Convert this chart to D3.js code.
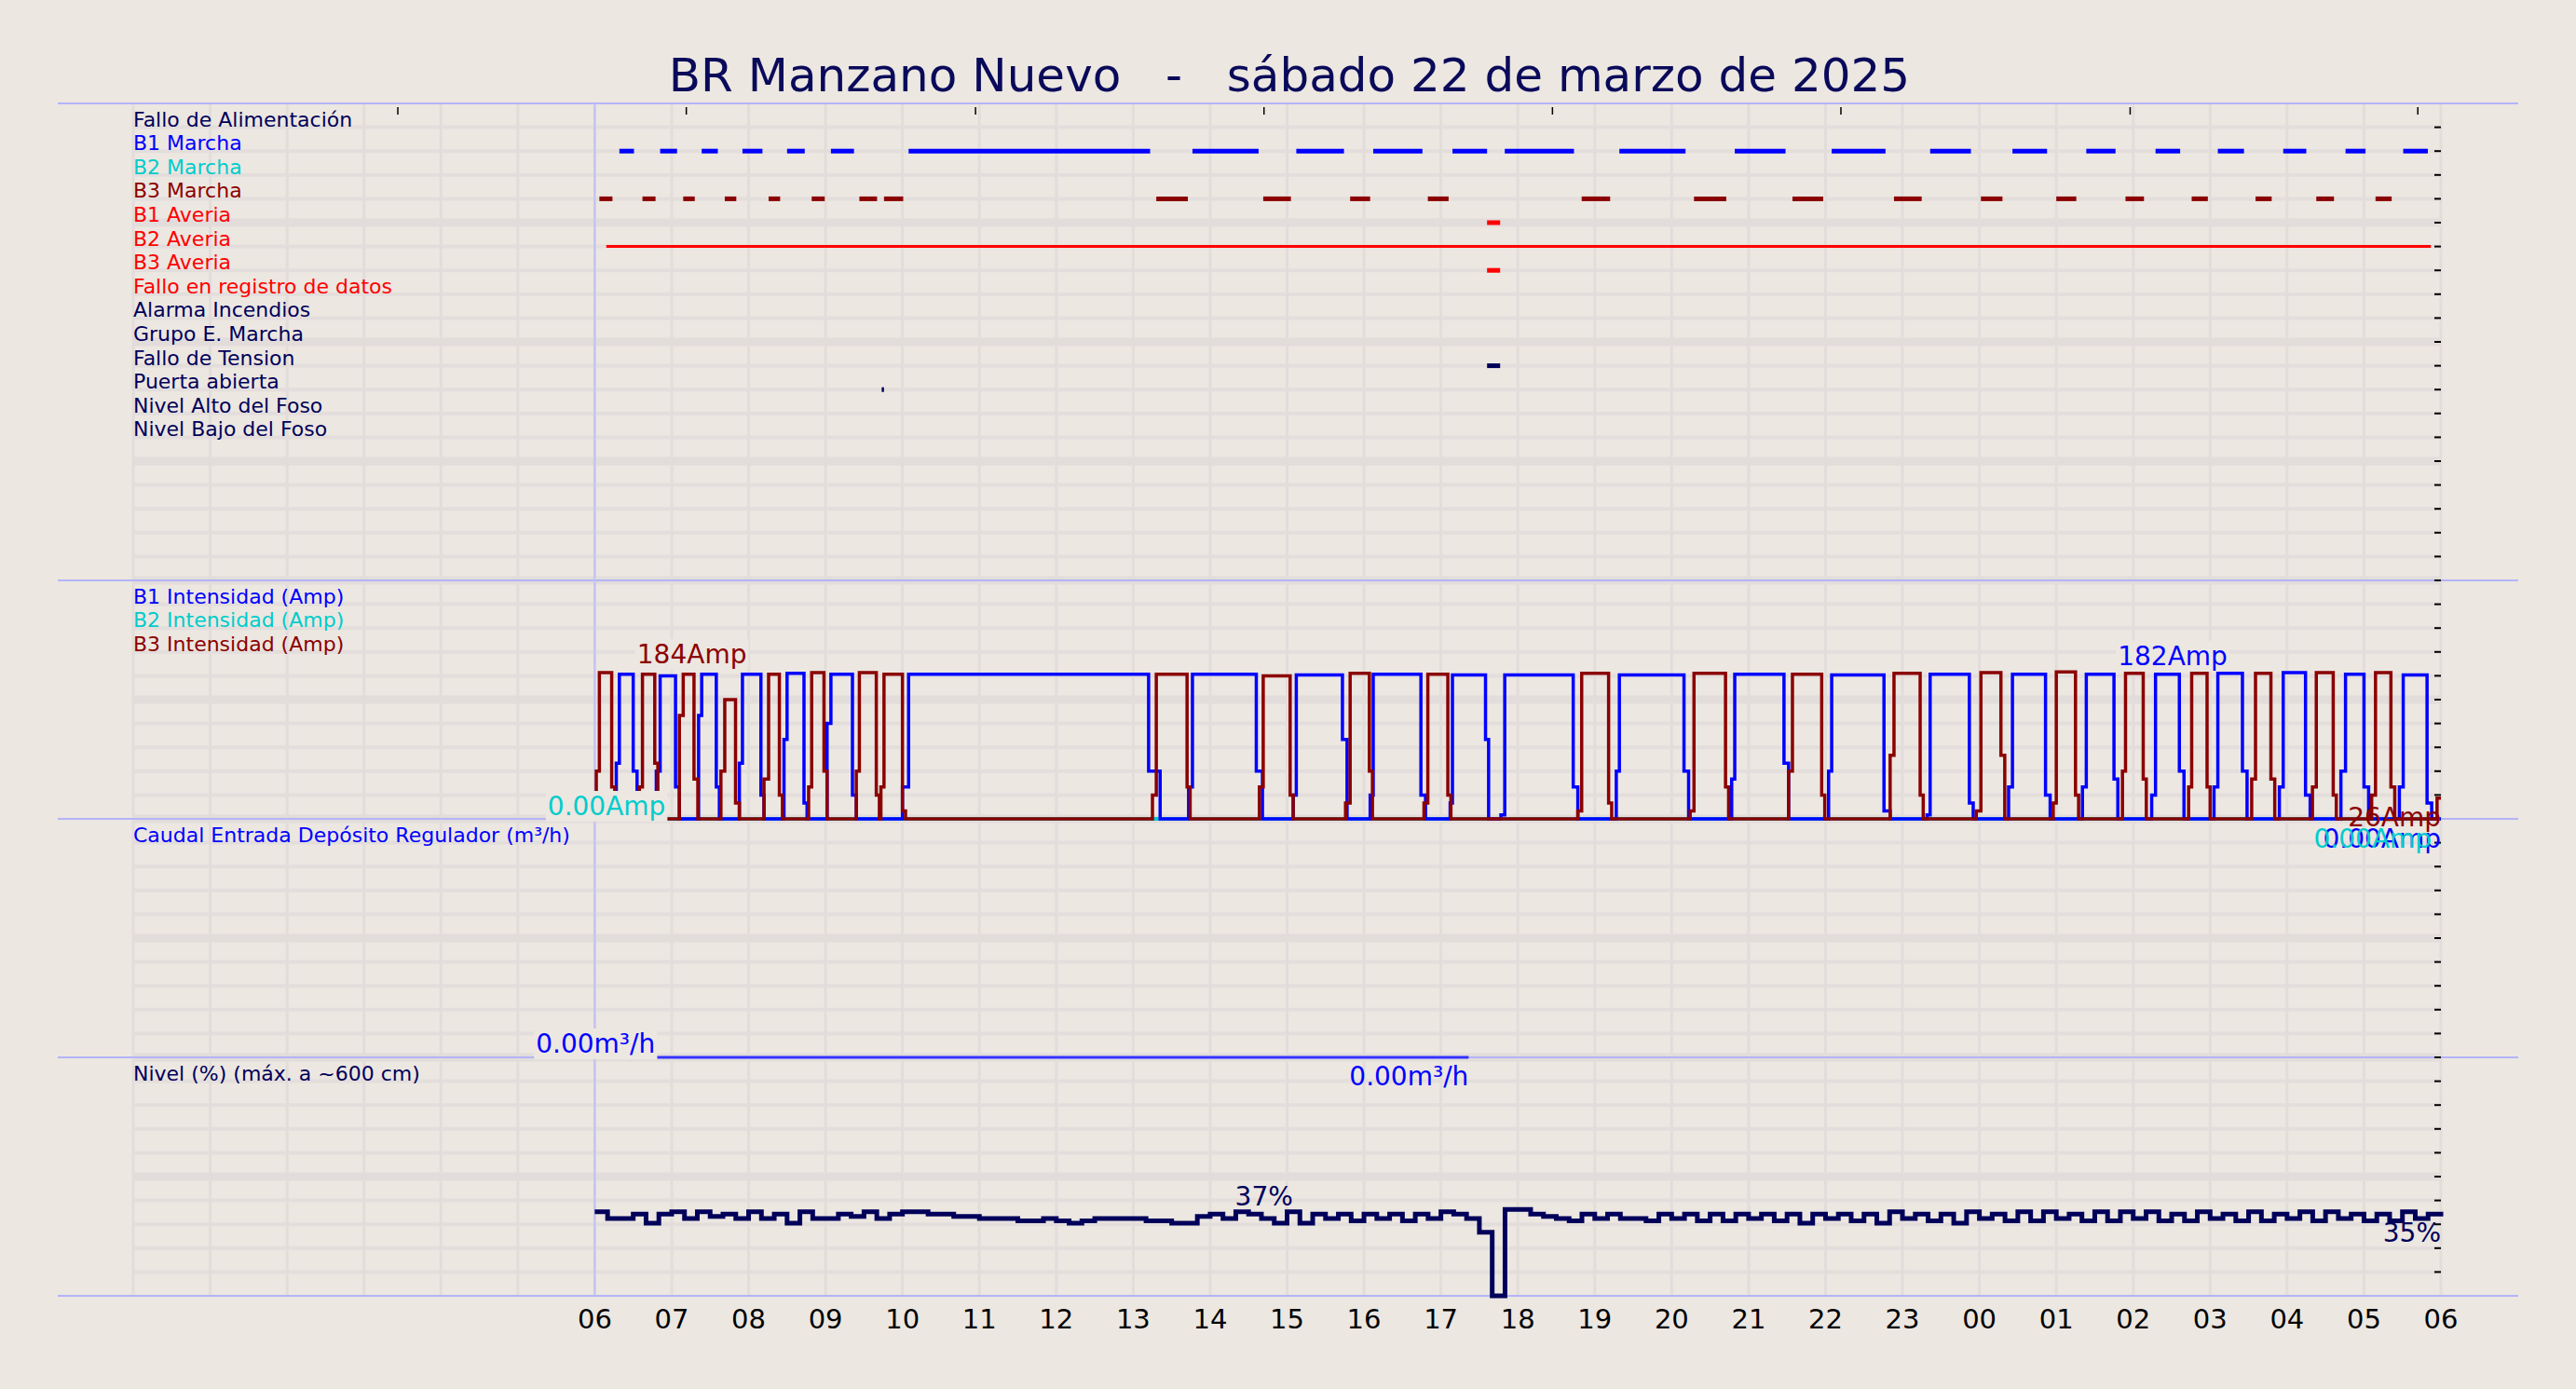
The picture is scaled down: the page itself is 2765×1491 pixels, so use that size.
<!DOCTYPE html>
<html><head><meta charset="utf-8">
<script src="https://cdn.jsdelivr.net/npm/d3@7"></script>
<style>body{margin:0;background:#ece7e1;}svg{display:block;font-family:"DejaVu Sans",sans-serif;}</style>
</head><body>
<script>
const titleText = "BR Manzano Nuevo   -   sábado 22 de marzo de 2025";
const digitalLabels = ["Fallo de Alimentación","B1 Marcha","B2 Marcha","B3 Marcha","B1 Averia","B2 Averia","B3 Averia","Fallo en registro de datos","Alarma Incendios","Grupo E. Marcha","Fallo de Tension","Puerta abierta","Nivel Alto del Foso","Nivel Bajo del Foso"];
const digitalColors = ["#00005a","#0000ff","#00cccc","#8b0000","#ff0000","#ff0000","#ff0000","#ff0000","#00005a","#00005a","#00005a","#00005a","#00005a","#00005a"];
const hourTicks = ["06","07","08","09","10","11","12","13","14","15","16","17","18","19","20","21","22","23","00","01","02","03","04","05","06"];
const topTicks = [3.44,7.19,10.95,14.7,18.45,22.2,25.96,29.7];
// segments in hours (6 = 06:00 day, 30 = 06:00 next day)
const b1Marcha = [[6.32,6.51],[6.85,7.07],[7.39,7.60],[7.92,8.18],[8.50,8.73],[9.07,9.37],[10.08,13.22],[13.77,14.63],[15.12,15.74],[16.12,16.76],[17.15,17.60],[17.83,18.73],[19.32,20.18],[20.82,21.48],[22.08,22.78],[23.36,23.89],[24.43,24.88],[25.39,25.77],[26.29,26.61],[27.10,27.44],[27.95,28.25],[28.76,29.02],[29.51,29.83]];
const b3Marcha = [[6.06,6.23],[6.62,6.79],[7.15,7.30],[7.69,7.84],[8.26,8.41],[8.82,8.99],[9.44,9.67],[9.76,10.01],[13.30,13.71],[14.69,15.05],[15.82,16.08],[16.83,17.10],[18.83,19.20],[20.29,20.71],[21.57,21.97],[22.89,23.25],[24.02,24.30],[25.00,25.26],[25.90,26.14],[26.76,26.97],[27.59,27.80],[28.38,28.61],[29.15,29.36]];
const b1Averia = [[17.60,17.77]];
const b2Averia = [[6.15,29.87]];
const b3Averia = [[17.60,17.77]];
const falloTension = [[17.60,17.77]];
const puertaAbierta = [[9.73,9.76]];
// intensity cycles: [rampStart, rampAmp, onStart, peakAmp, offStart, tailAmp, zeroAt]
const b1Cycles = [[6.28,70,6.32,182,6.50,60,6.55],[6.80,60,6.85,180,7.05,40,7.10],[7.35,130,7.39,182,7.58,40,7.62],[7.88,70,7.92,182,8.16,30,8.20],[8.46,100,8.50,183,8.72,20,8.76],[9.02,120,9.07,182,9.35,30,9.40],[10.00,40,10.08,182,13.20,60,13.35],[13.72,40,13.77,182,14.60,60,14.68],[15.08,30,15.12,181,15.72,100,15.78],[16.08,30,16.12,182,16.74,30,16.80],[17.12,20,17.15,181,17.58,100,17.62],[17.78,5,17.83,181,18.72,40,18.78],[19.28,60,19.32,181,20.16,60,20.22],[20.78,50,20.82,182,21.46,70,21.52],[22.04,60,22.08,181,22.76,10,22.84],[23.32,5,23.36,182,23.87,20,23.92],[24.38,40,24.43,182,24.86,30,24.92],[25.34,40,25.39,182,25.75,50,25.80],[26.24,30,26.29,182,26.60,60,26.66],[27.05,40,27.10,183,27.42,60,27.48],[27.90,40,27.95,184,28.24,30,28.30],[28.70,60,28.76,182,29.00,40,29.06],[29.46,40,29.51,181,29.82,20,29.88]];
const b3Cycles = [[6.02,60,6.06,184,6.22,40,6.26],[6.58,40,6.62,182,6.78,70,6.82],[7.10,130,7.15,182,7.29,50,7.34],[7.64,60,7.69,150,7.83,20,7.88],[8.20,50,8.26,182,8.40,30,8.44],[8.78,40,8.82,184,8.98,60,9.02],[9.40,60,9.44,184,9.66,30,9.70],[9.72,40,9.76,182,10.00,10,10.04],[13.25,30,13.30,182,13.70,40,13.74],[14.64,40,14.69,180,15.04,30,15.08],[15.76,20,15.82,183,16.07,60,16.11],[16.78,20,16.83,182,17.09,30,17.13],[18.78,10,18.83,183,19.18,20,19.22],[20.24,10,20.29,183,20.70,40,20.74],[21.52,60,21.57,182,21.95,30,21.99],[22.84,80,22.89,183,23.23,30,23.27],[23.96,10,24.02,184,24.28,80,24.33],[24.96,20,25.00,185,25.25,30,25.29],[25.86,60,25.90,183,26.13,50,26.17],[26.72,40,26.76,183,26.96,40,27.00],[27.54,50,27.59,183,27.79,50,27.84],[28.33,40,28.38,184,28.60,30,28.64],[29.10,30,29.15,184,29.35,40,29.40]];
const b3Final = [[29.95,26]];
const caudalSpan = [[6.81,0],[17.36,0]];
// level % every 10 min, one row per hour from 06
const levelRows = [
[37,34,34,36,32,36],[37,34,37,35,36,34],[37,34,36,32,37,34],[34,36,35,37,34,36],
[37,37,36,36,35,35],[34,34,34,33,33,34],[33,32,33,34,34,34],[34,33,33,32,32,35],
[36,34,37,36,34,32],[37,32,36,34,36,33],[36,34,36,33,36,34],[37,36,34,28,0,38],
[38,36,35,34,33,36],[34,36,34,34,33,36],[34,36,33,36,33,36],[34,36,33,36,32,36],
[34,36,33,36,32,37],[34,36,33,36,32,37],[34,36,33,37,33,37],[34,36,33,37,33,37],
[34,37,33,36,33,37],[34,36,33,37,33,36],[34,37,33,37,34,36],[33,36,33,37,34,36]];
const levelLast = 35;

const W=2765,H=1491, L=143, R=2620, TOP=111, RH=25.6;
const svg=d3.select("body").append("svg").attr("width",W).attr("height",H);
svg.append("rect").attr("width",W).attr("height",H).attr("fill","#ece7e1");
const x=d3.scaleLinear().domain([0,30]).range([L,R]);
const rowY=k=>TOP+k*RH;
const BOT=rowY(50);
// grid
const g=svg.append("g");
for(let k=1;k<50;k++){g.append("line").attr("x1",L).attr("x2",R).attr("y1",rowY(k)).attr("y2",rowY(k)).attr("stroke",k%5===0?"#e2dcdb":"#e3dedc").attr("stroke-width",k%5===0?9:4);}
g.selectAll(".vg").data(d3.range(0,31)).join("line").attr("x1",d=>x(d)).attr("x2",d=>x(d)).attr("y1",TOP).attr("y2",BOT).attr("stroke","#e2dddb").attr("stroke-width",3);
[0,20,30,40,50].forEach(k=>g.append("line").attr("x1",62).attr("x2",2703).attr("y1",rowY(k)).attr("y2",rowY(k)).attr("stroke","#b4b4f8").attr("stroke-width",2));
g.append("line").attr("x1",x(6)).attr("x2",x(6)).attr("y1",TOP).attr("y2",BOT).attr("stroke","#c0c0f4").attr("stroke-width",2);
for(let k=1;k<50;k++)g.append("line").attr("x1",R-7).attr("x2",R).attr("y1",rowY(k)).attr("y2",rowY(k)).attr("stroke","#000").attr("stroke-width",2);
g.selectAll(".tt").data(topTicks).join("line").attr("x1",d=>x(d)).attr("x2",d=>x(d)).attr("y1",TOP+4).attr("y2",TOP+12).attr("stroke","#000").attr("stroke-width",1.5);
// title
svg.append("text").attr("x",1384).attr("y",98).attr("text-anchor","middle").attr("font-size",50).attr("fill","#0a0a5a").attr("xml:space","preserve").style("white-space","pre").text(titleText);
// digital labels & segments
digitalLabels.forEach((t,i)=>svg.append("text").attr("x",L).attr("y",rowY(i+1)-1).attr("font-size",22).attr("fill",digitalColors[i]).text(t));
function segs(data,row,color,w){svg.append("g").selectAll("line").data(data).join("line").attr("x1",d=>x(d[0])).attr("x2",d=>x(d[1])).attr("y1",rowY(row)).attr("y2",rowY(row)).attr("stroke",color).attr("stroke-width",w);}
segs(b1Marcha,2,"#0000ff",5);segs(b3Marcha,4,"#8b0000",5);segs(b1Averia,5,"#ff0000",5);segs(b2Averia,6,"#ff0000",3);segs(b3Averia,7,"#ff0000",5);segs(falloTension,11,"#00005a",5);segs(puertaAbierta,12,"#00005a",5);
// intensity panel
const yI=d3.scaleLinear().domain([0,300]).range([rowY(30),rowY(20)]);
["B1 Intensidad (Amp)","B2 Intensidad (Amp)","B3 Intensidad (Amp)"].forEach((t,i)=>svg.append("text").attr("x",L).attr("y",rowY(21+i)-1).attr("font-size",22).attr("fill",["#0000ff","#00cccc","#8b0000"][i]).text(t));
function cyclePts(c,extra){const p=[[6,0]];c.forEach(r=>{p.push([r[0],r[1]],[r[2],r[3]],[r[4],r[5]],[r[6],0]);});(extra||[]).forEach(e=>p.push(e));p.push([30,p[p.length-1][1]]);return p;}
const lineI=d3.line().x(d=>x(d[0])).y(d=>yI(d[1])).curve(d3.curveStepAfter);
svg.append("path").datum([[6.9,0],[30,0]]).attr("d",lineI).attr("fill","none").attr("stroke","#00cccc").attr("stroke-width",4);
svg.append("path").datum(cyclePts(b1Cycles)).attr("d",lineI).attr("fill","none").attr("stroke","#0000ff").attr("stroke-width",3.5);
svg.append("path").datum(cyclePts(b3Cycles,b3Final)).attr("d",lineI).attr("fill","none").attr("stroke","#8b0000").attr("stroke-width",3.5);
function lbl(t,xx,yy,anchor,color,bg){const gg=svg.append("g");const tx=gg.append("text").attr("x",xx).attr("y",yy).attr("text-anchor",anchor).attr("font-size",28).attr("fill",color).text(t);if(bg){const b=tx.node().getBBox();gg.insert("rect","text").attr("x",b.x-2).attr("y",b.y).attr("width",b.width+4).attr("height",b.height).attr("fill","#ece7e1");}}
lbl("184Amp",x(6.55),yI(184)-10,"start","#8b0000",true);
lbl("182Amp",x(25.8),yI(182)-10,"start","#0000ff",true);
lbl("0.00Amp",x(6.92),875,"end","#00cccc",true);
lbl("26Amp",x(30),887,"end","#8b0000",false);
lbl("0.00Amp",x(30),910,"end","#0000ff",false);
lbl("0.00Amp",x(29.88),910,"end","#00cccc",false);
// caudal
svg.append("text").attr("x",L).attr("y",rowY(31)-1).attr("font-size",22).attr("fill","#0000ff").text("Caudal Entrada Depósito Regulador (m³/h)");
const yC=d3.scaleLinear().domain([0,100]).range([rowY(40),rowY(30)]);
svg.append("path").datum(caudalSpan).attr("d",d3.line().x(d=>x(d[0])).y(d=>yC(d[1]))).attr("stroke","#3333ff").attr("stroke-width",3).attr("fill","none");
lbl("0.00m³/h",x(6.81)-2,1130,"end","#0000ff",true);
lbl("0.00m³/h",x(17.36),1165,"end","#0000ff",false);
// level
svg.append("text").attr("x",L).attr("y",rowY(41)-1).attr("font-size",22).attr("fill","#00005a").text("Nivel (%) (máx. a ~600 cm)");
const yL=d3.scaleLinear().domain([0,105]).range([rowY(50),rowY(40)]);
const lvl=[];levelRows.forEach((r,i)=>r.forEach((v,j)=>lvl.push([6+i+j/6,v])));lvl.push([30,levelLast]);
svg.append("path").datum(lvl).attr("d",d3.line().x(d=>x(d[0])).y(d=>yL(d[1])).curve(d3.curveStepAfter)).attr("fill","none").attr("stroke","#00005a").attr("stroke-width",5);
lbl("37%",x(14.7),1294,"middle","#00005a",false);
lbl("35%",x(30),1333,"end","#00005a",false);
// x axis labels
svg.append("g").selectAll("text").data(hourTicks).join("text").attr("x",(d,i)=>x(6+i)).attr("y",1426).attr("text-anchor","middle").attr("font-size",29).attr("fill","#000").text(d=>d);
</script>
</body></html>
